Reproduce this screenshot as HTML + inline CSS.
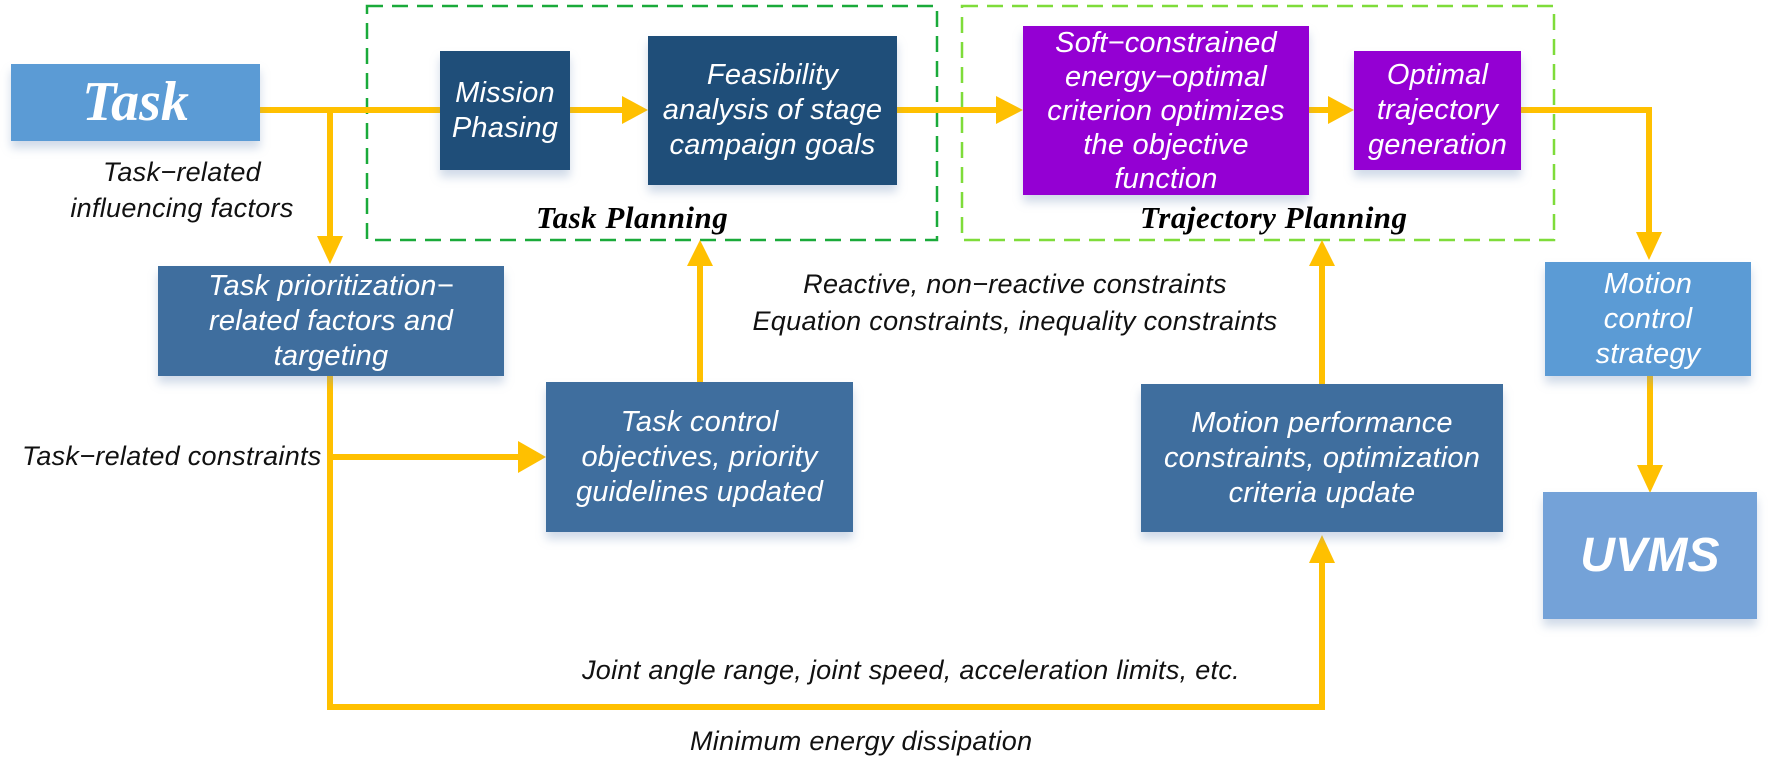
<!DOCTYPE html>
<html><head><meta charset="utf-8"><style>
body{margin:0;width:1772px;height:760px;background:#fff;position:relative;overflow:hidden;font-family:"Liberation Sans",sans-serif}
.b{position:absolute;color:#fff;font-style:italic;display:flex;align-items:center;justify-content:center;text-align:center;font-size:29px;line-height:35px;letter-spacing:0.2px;box-shadow:0 7px 9px rgba(120,150,190,0.35);white-space:nowrap}
.t{position:absolute;font-style:italic;font-size:27px;color:#111;white-space:nowrap;letter-spacing:0.3px}
.lab{position:absolute;font-family:"Liberation Serif",serif;font-weight:bold;font-style:italic;font-size:31px;color:#000;white-space:nowrap;letter-spacing:0.5px}
</style></head><body>
<svg width="1772" height="760" style="position:absolute;left:0;top:0">
<rect x="367" y="6" width="570" height="234" fill="none" stroke="#1aaa3a" stroke-width="2.5" stroke-dasharray="16,9"/>
<rect x="962" y="6" width="592" height="234" fill="none" stroke="#7fdc3a" stroke-width="2.5" stroke-dasharray="16,9"/>
<g stroke="#ffc000" stroke-width="6" fill="none">
<path d="M260 110H440"/><path d="M330 110V240"/>
<path d="M570 110H624"/><path d="M897 110H998"/><path d="M1309 110H1330"/>
<path d="M1521 110H1649V236"/><path d="M1650 376V468"/>
<path d="M330 376V707H1322V560"/><path d="M330 457H522"/>
<path d="M700 382V262"/><path d="M1322 384V262"/>
</g>
<g fill="#ffc000">
<path d="M317 236L343 236L330 264Z"/>
<path d="M622 96L648 110L622 124Z"/>
<path d="M996 96L1023 110L996 124Z"/>
<path d="M1328 96L1354 110L1328 124Z"/>
<path d="M1636 232L1662 232L1649 260Z"/>
<path d="M1637 465L1663 465L1650 493Z"/>
<path d="M518 441L546 457L518 473Z"/>
<path d="M687 266L713 266L700 240Z"/>
<path d="M1309 266L1335 266L1322 240Z"/>
<path d="M1309 563L1335 563L1322 535Z"/>
</g>
</svg>
<div class="b" style="left:11px;top:64px;width:249px;height:77px;background:#5b9bd5;font-family:'Liberation Serif',serif;font-weight:bold;font-size:56px;letter-spacing:0">Task</div>
<div class="b" style="left:440px;top:51px;width:130px;height:119px;background:#1f4e79">Mission<br>Phasing</div>
<div class="b" style="left:648px;top:36px;width:249px;height:149px;background:#1f4e79">Feasibility<br>analysis of stage<br>campaign goals</div>
<div class="b" style="left:1023px;top:26px;width:286px;height:169px;background:#9400d3;line-height:34px">Soft−constrained<br>energy−optimal<br>criterion optimizes<br>the objective<br>function</div>
<div class="b" style="left:1354px;top:51px;width:167px;height:119px;background:#9400d3">Optimal<br>trajectory<br>generation</div>
<div class="b" style="left:1545px;top:262px;width:206px;height:114px;background:#5b9bd5">Motion<br>control<br>strategy</div>
<div class="b" style="left:1543px;top:492px;width:214px;height:127px;background:#74a2d8;font-size:48px;font-weight:bold">UVMS</div>
<div class="b" style="left:158px;top:266px;width:346px;height:110px;background:#3f6e9e">Task prioritization−<br>related factors and<br>targeting</div>
<div class="b" style="left:546px;top:382px;width:307px;height:150px;background:#3f6e9e">Task control<br>objectives, priority<br>guidelines updated</div>
<div class="b" style="left:1141px;top:384px;width:362px;height:148px;background:#3f6e9e">Motion performance<br>constraints, optimization<br>criteria update</div>
<div class="lab" style="left:536px;top:200px">Task Planning</div>
<div class="lab" style="left:1140px;top:200px">Trajectory Planning</div>
<div class="t" style="left:50px;top:154px;width:264px;text-align:center;line-height:36px">Task−related<br>influencing factors</div>
<div class="t" style="left:720px;top:266px;width:590px;text-align:center;line-height:37px">Reactive, non−reactive constraints<br>Equation constraints, inequality constraints</div>
<div class="t" style="left:22px;top:441px">Task−related constraints</div>
<div class="t" style="left:582px;top:655px">Joint angle range, joint speed, acceleration limits, etc.</div>
<div class="t" style="left:690px;top:726px">Minimum energy dissipation</div>
</body></html>
